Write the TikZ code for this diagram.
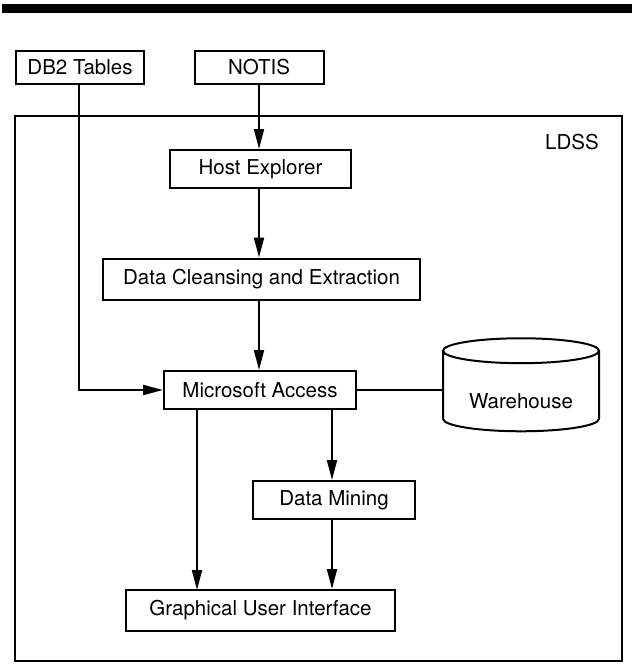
\documentclass[tikz,border=0pt]{standalone}
\usepackage{fontspec}
\setmainfont{TeX Gyre Heros}
\usetikzlibrary{arrows.meta,shapes.geometric}
\begin{document}
\begin{tikzpicture}[x = 1pt, y = -1pt,
	box/.style = {draw, line width = 2pt, inner sep = 0pt, font = \fontsize{20.5}{24}\selectfont},
	flow/.style = {line width = 2pt, -{Triangle[length = 20pt, width = 10pt]}},
	link/.style = {line width = 2pt}]
	\useasboundingbox (0,0) rectangle (632,664);
	\fill (2,4) rectangle (632,13); %rule at the top
	\node[draw, line width = 2pt, minimum width = 607pt, minimum height = 545pt] (ldss) at (318.5,388.5) {};
	\node[font = \fontsize{20.5}{24}\selectfont] (ldsslabel) at (572,142) {LDSS};
	\node[box, minimum width = 128pt, minimum height = 33pt] (db2) at (80,67.5) {DB2 Tables};
	\node[box, minimum width = 129pt, minimum height = 33pt] (notis) at (259,67.5) {NOTIS};
	\node[box, minimum width = 181pt, minimum height = 38pt] (host) at (260.5,169) {Host Explorer};
	\node[box, minimum width = 317pt, minimum height = 41pt] (clean) at (261.5,279) {Data Cleansing and Extraction};
	\node[box, minimum width = 192pt, minimum height = 38pt] (access) at (260,390) {Microsoft Access};
	\node[box, cylinder, shape border rotate = 90, aspect = 0.24, minimum width = 156pt, minimum height = 93pt] (warehouse) at (521,391.5) {\raisebox{-17pt}[0pt][0pt]{Warehouse}};
	\node[box, minimum width = 162pt, minimum height = 38pt] (mining) at (334,500) {Data Mining};
	\node[box, minimum width = 269pt, minimum height = 41pt] (gui) at (260.5,610.5) {Graphical User Interface};
	\coordinate (guiin) at (197,590);
	\draw[flow] (notis.south -| 259,0) -- (host.north -| 259,0);
	\draw[flow] (host.south -| 259,0) -- (clean.north -| 259,0);
	\draw[flow] (clean.south -| 259,0) -- (access.north -| 259,0);
	\draw[flow] (db2.south -| 79,0) |- (access.west);
	\draw[link] (access.east) -- (access.east -| warehouse.west);
	\draw[flow] (access.south -| guiin) -- (guiin);
	\draw[flow] (access.south -| 332,0) -- (mining.north -| 332,0);
	\draw[flow] (mining.south -| 332,0) -- (gui.north -| 332,0);
\end{tikzpicture}
\end{document}
